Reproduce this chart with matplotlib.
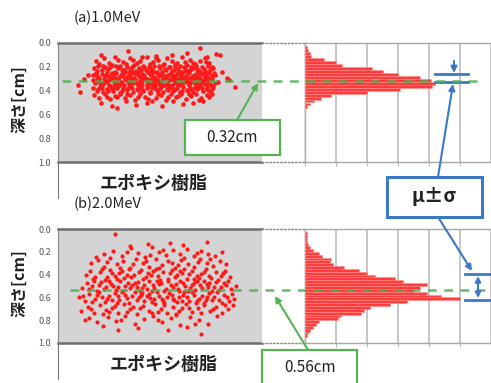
import numpy as np
import matplotlib
matplotlib.use("Agg")
import matplotlib.pyplot as plt
import matplotlib.transforms as mtransforms
from matplotlib.lines import Line2D
from matplotlib.patches import Rectangle, FancyArrowPatch

plt.rcParams['font.family'] = ['Noto Sans CJK JP', 'DejaVu Sans']

# === Data ===
panel_titles = ["(a)1.0MeV", "(b)2.0MeV"]
mean_labels = ["0.32cm", "0.56cm"]
material = "エポキシ樹脂"
ylabel = "深さ[cm]"
depth_ticks = [0.0, 0.2, 0.4, 0.6, 0.8, 1.0]
mean_depth = [0.32, 0.535]          # green dashed line (as drawn)
sigma_a = (0.26, 0.33)              # blue mu +- sigma bars
sigma_b = (0.395, 0.623)

bin_width = 0.025
bin_starts = np.arange(0, 1.0, bin_width)
hist_a = [0, 1, 2, 3, 4, 12, 20, 24, 43, 50, 60, 74, 81, 84, 82, 61, 40, 17, 10, 6,
          3, 1, 0, 0, 0, 0, 0, 0, 0, 0, 0, 0, 0, 0, 0, 0, 0, 0, 0, 0]
hist_b = [0, 1, 1, 1, 1, 2, 3, 5, 9, 11, 17, 16, 18, 25, 35, 40, 45, 58, 63, 79,
          74, 70, 79, 88, 100, 66, 55, 42, 38, 36, 23, 21, 9, 7, 5, 3, 2, 1, 0, 0]

# scatter points (x position [0-100], depth [cm])
pts_a = [
    (21.3,.10),(34.5,.07),(48.2,.11),(69.8,.04),(77.5,.09),(56.1,.10),(27.9,.12),(63.4,.08),(41.0,.115),(73.2,.12),
    (18.4,.15),(22.7,.13),(25.1,.17),(29.6,.14),(31.8,.16),(35.2,.13),(38.9,.17),(40.3,.15),(43.7,.12),(46.5,.16),
    (49.0,.14),(51.8,.175),(53.3,.13),(55.9,.15),(58.2,.17),(60.7,.12),(62.1,.16),(64.8,.14),(67.3,.18),(69.5,.15),
    (71.9,.13),(74.0,.17),(20.2,.18),(33.1,.18),(44.9,.175),(57.4,.18),(66.0,.165),(72.6,.16),(36.7,.145),(47.8,.125),
    (17.5,.21),(19.8,.19),(21.4,.23),(23.0,.20),(24.6,.22),(26.3,.185),(27.7,.24),(29.2,.21),(30.5,.19),(32.4,.23),
    (33.9,.20),(35.6,.22),(37.1,.185),(38.4,.235),(39.9,.21),(41.6,.19),(43.0,.23),(44.4,.20),(45.8,.22),(47.3,.195),
    (48.7,.24),(50.2,.21),(51.5,.185),(53.0,.225),(54.6,.20),(56.0,.235),(57.5,.19),(58.9,.215),(60.3,.24),(61.8,.20),
    (63.2,.185),(64.7,.225),(66.1,.21),(67.6,.19),(69.0,.235),(70.4,.205),(71.8,.22),(73.3,.19),(74.7,.23),(76.0,.21),
    (18.9,.235),(22.1,.195),(25.5,.205),(28.4,.19),(31.2,.225),(34.7,.24),(36.3,.20),(40.8,.225),(42.3,.205),(46.6,.235),
    (49.6,.19),(52.4,.215),(55.1,.205),(59.7,.195),(62.5,.23),(65.4,.20),(68.3,.215),(72.5,.24),(75.3,.20),(57.0,.225),
    (17.2,.27),(18.6,.25),(20.0,.29),(21.5,.26),(22.9,.28),(24.2,.245),(25.8,.295),(27.0,.27),(28.5,.25),(29.9,.285),
    (31.4,.26),(32.8,.245),(34.1,.28),(35.5,.265),(37.0,.295),(38.3,.25),(39.7,.275),(41.2,.26),(42.6,.29),(43.9,.245),
    (45.4,.27),(46.9,.285),(48.3,.255),(49.7,.275),(51.1,.245),(52.6,.29),(54.0,.265),(55.4,.25),(56.8,.28),(58.3,.26),
    (59.7,.295),(61.1,.245),(62.6,.275),(64.0,.255),(65.5,.285),(66.9,.265),(68.3,.245),(69.8,.29),(71.2,.26),(72.6,.275),
    (74.1,.25),(75.6,.28),(77.0,.265),(19.3,.275),(23.6,.265),(26.4,.255),(30.7,.27),(33.5,.29),(36.2,.245),(40.5,.285),
    (44.7,.255),(47.6,.295),(50.4,.265),(53.2,.275),(57.5,.29),(60.4,.265),(63.3,.245),(67.6,.275),(70.5,.25),(73.4,.295),
    (76.3,.255),(24.9,.28),(28.0,.295),(32.1,.28),(37.7,.26),(42.0,.27),(46.1,.25),(51.8,.28),(55.9,.27),(59.0,.25),
    (64.7,.29),(68.9,.26),(71.9,.285),(39.0,.24),(61.8,.285),
    (17.0,.31),(18.3,.34),(19.7,.32),(21.0,.355),(22.4,.30),(23.8,.33),(25.2,.35),(26.6,.315),(28.0,.34),(29.4,.305),
    (30.8,.325),(32.2,.355),(33.6,.31),(35.0,.345),(36.4,.32),(37.8,.30),(39.2,.35),(40.6,.33),(42.0,.31),(43.4,.345),
    (44.8,.325),(46.2,.305),(47.6,.355),(49.0,.32),(50.4,.34),(51.8,.30),(53.2,.335),(54.6,.315),(56.0,.35),(57.4,.325),
    (58.8,.305),(60.2,.345),(61.6,.33),(63.0,.31),(64.4,.355),(65.8,.32),(67.2,.34),(68.6,.30),(70.0,.335),(71.4,.315),
    (72.8,.35),(74.2,.325),(75.6,.305),(76.8,.34),(18.9,.305),(20.5,.335),(24.4,.315),(27.3,.355),(31.5,.335),(34.3,.32),
    (38.5,.34),(41.3,.355),(45.5,.34),(48.3,.31),(52.5,.35),(55.3,.30),(59.5,.335),(62.3,.32),(66.5,.305),(69.3,.35),
    (73.5,.31),(75.0,.355),(22.0,.345),(26.0,.30),(29.9,.35),(33.0,.30),(36.9,.335),(40.0,.315),(43.9,.30),(47.0,.33),
    (50.9,.31),(53.9,.355),(57.9,.34),(60.9,.31),(64.9,.335),(67.9,.325),(71.9,.345),(23.1,.32),(35.7,.305),(44.1,.335),
    (56.7,.31),(63.7,.34),(70.7,.32),(28.7,.325),(49.7,.345),
    (17.4,.38),(18.9,.40),(20.6,.37),(22.2,.415),(23.9,.39),(25.5,.365),(27.1,.405),(28.8,.38),(30.4,.42),(32.0,.375),
    (33.7,.395),(35.3,.365),(37.0,.41),(38.6,.385),(40.2,.37),(41.9,.405),(43.5,.38),(45.1,.415),(46.8,.365),(48.4,.395),
    (50.0,.375),(51.7,.41),(53.3,.385),(54.9,.365),(56.6,.40),(58.2,.38),(59.8,.415),(61.5,.37),(63.1,.395),(64.7,.375),
    (66.4,.41),(68.0,.39),(69.6,.365),(71.3,.40),(72.9,.38),(74.5,.415),(76.2,.37),(19.8,.39),(24.7,.40),(29.6,.36),
    (34.5,.38),(39.4,.395),(44.3,.365),(49.2,.40),(54.1,.395),(59.0,.365),(63.9,.405),(68.8,.375),(73.7,.395),(21.4,.375),
    (26.3,.385),(31.2,.40),(36.1,.375),(41.0,.39),(45.9,.38),(50.8,.36),(55.7,.38),(60.6,.40),(65.5,.385),(70.4,.38),
    (75.3,.39),(27.9,.37),(47.5,.38),(57.3,.39),(67.1,.37),
    (17.8,.44),(20.3,.46),(22.8,.43),(25.3,.47),(27.8,.445),(30.3,.425),(32.8,.465),(35.3,.44),(37.8,.475),(40.3,.43),
    (42.8,.455),(45.3,.42),(47.8,.46),(50.3,.44),(52.8,.475),(55.3,.43),(57.8,.455),(60.3,.425),(62.8,.47),(65.3,.445),
    (67.8,.43),(70.3,.46),(72.8,.44),(75.3,.43),(24.0,.45),(29.0,.455),(34.0,.425),(39.0,.45),(44.0,.47),(49.0,.425),
    (54.0,.455),(59.0,.445),(64.0,.43),(69.0,.475),(74.0,.455),
    (21.0,.50),(26.5,.53),(29.0,.55),(33.5,.49),(38.0,.52),(43.5,.50),(51.0,.53),(56.5,.49),(61.5,.51),(66.0,.50),
    (71.0,.49),(46.0,.485),
    (9.8,.35),(10.8,.41),(82.8,.29),(86.8,.37),(79.4,.10),(80.5,.24),(78.6,.33),(12.5,.30),(84.0,.31),(14.8,.27),
]

pts_b = [
    (28.1,.04),(72.9,.11),(44.0,.13),(61.5,.14),(35.2,.145),(54.8,.12),
    (22.4,.22),(26.8,.19),(31.5,.235),(35.9,.17),(39.3,.21),(42.7,.245),(46.1,.16),(49.6,.20),(53.0,.23),(56.4,.18),
    (59.8,.22),(63.2,.175),(66.7,.24),(70.1,.195),(73.5,.215),(77.0,.24),(80.6,.205),(18.5,.245),(33.7,.20),(51.3,.18),
    (68.0,.21),(44.9,.225),
    (16.3,.30),(19.4,.27),(22.6,.33),(25.7,.255),(28.9,.31),(32.0,.285),(35.2,.345),(38.3,.265),(41.5,.30),(44.6,.335),
    (47.8,.26),(50.9,.315),(54.1,.28),(57.2,.345),(60.4,.27),(63.5,.305),(66.7,.33),(69.8,.26),(73.0,.295),(76.1,.325),
    (79.3,.28),(82.4,.31),(24.0,.29),(30.3,.345),(36.7,.31),(43.0,.28),(49.4,.34),(55.7,.30),(62.0,.255),(68.4,.29),
    (74.7,.265),(58.9,.32),
    (13.5,.40),(15.9,.37),(18.2,.42),(20.6,.38),(23.0,.445),(25.3,.36),(27.7,.41),(30.1,.385),(32.4,.43),(34.8,.355),
    (37.2,.40),(39.5,.375),(41.9,.44),(44.3,.39),(46.6,.365),(49.0,.415),(51.4,.38),(53.7,.435),(56.1,.36),(58.5,.405),
    (60.8,.385),(63.2,.44),(65.6,.37),(67.9,.41),(70.3,.395),(72.7,.355),(75.0,.43),(77.4,.38),(79.8,.415),(82.1,.365),
    (84.5,.42),(17.0,.435),(21.8,.355),(26.5,.39),(31.2,.37),(36.0,.425),(40.7,.36),(45.5,.405),(50.2,.445),(54.9,.385),
    (59.6,.37),(64.4,.395),(69.1,.43),(73.8,.41),(78.6,.445),(28.9,.44),(33.6,.405),(43.1,.42),(47.8,.35),(57.3,.425),
    (62.0,.355),(66.8,.44),(71.5,.375),(81.0,.39),(24.2,.42),
    (11.8,.52),(14.2,.47),(16.5,.50),(18.9,.545),(21.2,.465),(23.6,.51),(25.9,.48),(28.3,.535),(30.6,.455),(33.0,.50),
    (35.3,.52),(37.7,.47),(40.0,.545),(42.4,.49),(44.7,.46),(47.1,.515),(49.4,.48),(51.8,.54),(54.1,.455),(56.5,.505),
    (58.8,.525),(61.2,.475),(63.5,.545),(65.9,.49),(68.2,.46),(70.6,.52),(72.9,.485),(75.3,.54),(77.6,.465),(80.0,.51),
    (82.4,.49),(84.7,.53),(87.1,.50),(15.3,.53),(20.0,.49),(24.8,.455),(29.5,.51),(34.2,.475),(38.9,.505),(43.6,.53),
    (48.3,.455),(53.0,.525),(57.7,.48),(62.4,.50),(67.1,.535),(71.8,.455),(76.5,.505),(81.2,.47),(17.7,.46),(22.4,.525),
    (27.1,.50),(31.8,.545),(36.5,.49),(41.2,.515),(45.9,.54),(50.6,.47),(55.3,.49),(60.0,.46),(64.7,.515),(69.4,.495),
    (74.1,.47),(78.8,.535),(39.4,.465),(46.5,.495),(59.4,.545),(66.5,.475),(73.5,.51),(83.5,.46),
    (10.5,.60),(13.0,.63),(15.4,.57),(17.9,.615),(20.3,.555),(22.8,.64),(25.2,.59),(27.7,.565),(30.1,.625),(32.6,.58),
    (35.0,.645),(37.5,.555),(39.9,.60),(42.4,.635),(44.8,.57),(47.3,.61),(49.7,.585),(52.2,.645),(54.6,.56),(57.1,.62),
    (59.5,.595),(62.0,.55),(64.4,.63),(66.9,.575),(69.3,.61),(71.8,.645),(74.2,.565),(76.7,.60),(79.1,.625),(81.6,.58),
    (84.0,.635),(86.4,.61),(12.1,.585),(16.6,.64),(21.5,.60),(26.4,.625),(31.3,.55),(36.2,.59),(41.1,.565),(46.0,.64),
    (50.9,.61),(55.8,.58),(60.7,.635),(65.6,.555),(70.5,.59),(75.4,.62),(80.3,.645),(85.2,.57),(19.1,.58),(24.0,.615),
    (28.9,.645),(33.8,.605),(38.7,.625),(43.6,.59),(48.5,.555),(53.4,.60),(58.3,.64),(63.2,.60),(68.1,.63),(73.0,.595),
    (77.9,.555),(82.8,.60),(29.5,.585),(45.2,.605),(51.5,.63),(56.5,.615),(61.5,.575),(67.5,.645),(72.5,.625),(40.5,.58),
    (11.5,.72),(14.5,.68),(17.5,.74),(20.5,.665),(23.5,.71),(26.5,.69),(29.5,.735),(32.5,.66),(35.5,.70),(38.5,.745),
    (41.5,.675),(44.5,.72),(47.5,.655),(50.5,.705),(53.5,.74),(56.5,.68),(59.5,.715),(62.5,.66),(65.5,.73),(68.5,.695),
    (71.5,.665),(74.5,.72),(77.5,.685),(80.5,.74),(83.5,.70),(86.0,.67),(16.0,.70),(22.0,.745),(28.0,.675),(34.0,.725),
    (40.0,.695),(46.0,.74),(52.0,.67),(58.0,.745),(64.0,.695),(70.0,.735),(76.0,.705),(81.8,.665),(25.0,.725),(37.0,.68),
    (49.0,.73),(61.0,.69),
    (13.0,.80),(15.0,.78),(19.0,.82),(24.5,.775),(28.5,.81),(33.0,.765),(37.5,.835),(42.0,.79),(46.5,.76),(51.0,.82),
    (55.5,.785),(60.0,.845),(64.5,.77),(69.0,.80),(73.5,.83),(78.0,.76),(31.0,.80),(48.8,.80),(57.8,.755),(67.0,.835),
    (29.5,.89),(70.0,.92),(39.0,.87),(54.0,.885),(63.0,.86),(22.0,.855),
]

# === Layout helpers (pixel coords of the 491x383 picture) ===
W, H = 491, 383
fig = plt.figure(figsize=(W / 100, H / 100), dpi=100)

def P(x, y):
    return (x / W, 1 - y / H)

def box(x0, y0, x1, y1):
    return [x0 / W, 1 - y1 / H, (x1 - x0) / W, (y1 - y0) / H]

green = '#55b355'
blue = '#3a78c8'
grid_c = '#bcbcbc'

def panel(top, bottom, pts, hist, mean, sigma, title, bottom_text_x, msize, sig_x):
    # scatter on gray
    ax = fig.add_axes(box(58, top, 262, bottom))
    ax.set_facecolor('#d4d4d4')
    xs = [p[0] for p in pts]
    ys = [p[1] for p in pts]
    ax.scatter(xs, ys, s=msize, color='#ff1a1a', linewidths=0, zorder=3)
    ax.set_xlim(0, 100)
    ax.set_ylim(1, 0)
    ax.set_xticks([])
    ax.set_yticks(depth_ticks)
    ax.set_yticklabels([f"{t:.1f}" for t in depth_ticks], fontsize=6.5, color='#555555')
    ax.tick_params(axis='y', length=0, pad=5)
    for s in ['top', 'bottom']:
        ax.spines[s].set_color('#6e6e6e')
        ax.spines[s].set_linewidth(1.8)
    ax.spines['left'].set_color('#8a8a8a')
    ax.spines['left'].set_linewidth(0.8)
    ax.spines['right'].set_visible(False)

    # dotted empty box
    axd = fig.add_axes(box(262, top, 305, bottom))
    axd.set_xticks([])
    axd.set_yticks([])
    for s in axd.spines.values():
        s.set_linestyle(':')
        s.set_color('#888888')
        s.set_linewidth(1)
    axd.spines['left'].set_visible(False)

    # histogram
    axh = fig.add_axes(box(305, top, 491, bottom))
    axh.barh(bin_starts, hist, height=bin_width, align='edge', color='#ff3b3b',
             edgecolor='#ff8c8c', linewidth=0.4, zorder=3)
    axh.set_xlim(0, 120)
    axh.set_ylim(1, 0)
    axh.set_xticks([0, 20, 40, 60, 80, 100, 120])
    axh.set_xticklabels([])
    axh.set_yticks([])
    axh.grid(axis='x', color=grid_c, linewidth=1.2, zorder=0)
    axh.tick_params(axis='x', length=3, color=grid_c, direction='out')
    for s in ['top', 'bottom', 'left']:
        axh.spines[s].set_color('#a8a8a8')
        axh.spines[s].set_linewidth(1)
    axh.spines['right'].set_visible(False)

    # sigma bars
    for yv in sigma:
        axh.plot(sig_x, [yv, yv], color=blue, lw=2, clip_on=False, zorder=5)

    # left line extension below the axes
    fig.add_artist(Line2D([58 / W, 58 / W], [1 - bottom / H, 1 - (bottom + 36) / H],
                          color='#777777', lw=0.8))
    return ax, axh

def mean_line(ax, mean, x_start, x_end):
    trans = mtransforms.blended_transform_factory(fig.transFigure, ax.transData)
    fig.add_artist(Line2D([x_start / W, x_end / W], [mean, mean], transform=trans,
                          color='#4caf50', lw=1.8, ls=(0, (3.5, 3)), alpha=0.85, zorder=6))

def labels(top, bottom, title, bottom_text_x):
    fig.text(*P(74, top - 25), title, fontsize=10.5, ha='left', va='center', color='#222222')
    fig.text(*P(19, (top + bottom) / 2 - 3), ylabel, fontsize=11.5, fontweight='bold',
             rotation=90, ha='center', va='center', color='#222222')
    fig.text(*P(bottom_text_x, bottom + 21), material, fontsize=13, fontweight='bold',
             ha='center', va='center', color='#222222')

ax_a, axh_a = panel(43, 162, pts_a, hist_a, mean_depth[0], sigma_a, panel_titles[0], 154, 11, [84, 105])
mean_line(ax_a, mean_depth[0], 62, 477)
labels(43, 162, panel_titles[0], 154)

ax_b, axh_b = panel(229, 343, pts_b, hist_b, mean_depth[1], sigma_b, panel_titles[1], 164, 9, [103, 120])
mean_line(ax_b, mean_depth[1], 70, 491)
labels(229, 343, panel_titles[1], 164)

def rect(x0, y0, x1, y1, color, lw):
    fig.add_artist(Rectangle(P(x0, y1), (x1 - x0) / W, (y1 - y0) / H, transform=fig.transFigure,
                             facecolor='white', edgecolor=color, lw=lw, zorder=7))

def arrow(a, b, color, style='-|>', ms=9, lw=1.5):
    fig.add_artist(FancyArrowPatch(P(*a), P(*b), transform=fig.transFigure, arrowstyle=style,
                                   mutation_scale=ms, color=color, lw=lw, zorder=8,
                                   shrinkA=0, shrinkB=0))

# green mean boxes
rect(185, 120, 280, 155, green, 1.6)
fig.text(*P(232, 138), mean_labels[0], fontsize=11, ha='center', va='center', color='#222222', zorder=9)
arrow((237, 120), (258, 83), green)
rect(262, 350, 357, 395, green, 1.6)
fig.text(*P(310, 368), mean_labels[1], fontsize=11, ha='center', va='center', color='#222222', zorder=9)
arrow((308, 350), (275, 296), green)

# blue mu +- sigma box
rect(387, 177, 482, 217, blue, 2.2)
fig.text(*P(434, 197), "μ±σ", fontsize=14, fontweight='bold', ha='center', va='center',
         color='#222222', zorder=9)
arrow((438, 177), (453, 84), blue)
arrow((454, 61), (454, 73), blue)
arrow((438, 217), (472, 271), blue)
arrow((478, 276), (478, 298), blue, style='<|-|>', ms=8)

fig.savefig('out.png', dpi=100)
